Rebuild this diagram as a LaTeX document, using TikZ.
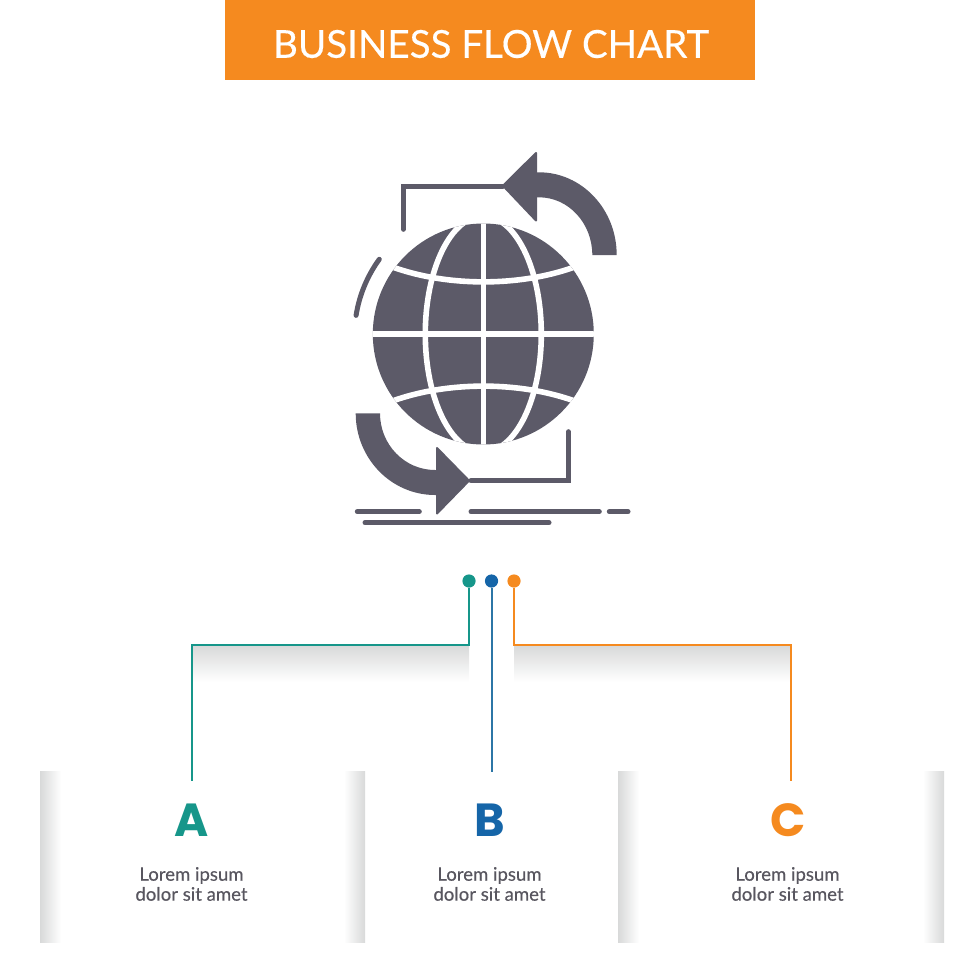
\documentclass[tikz,border=0pt]{standalone}
\usepackage{fontspec}
\setmainfont{Lato}[FakeBold=0.35]
\newfontfamily\markfont{Poppins}
\definecolor{headorange}{HTML}{F58A1F}
\definecolor{markteal}{HTML}{16968A}
\definecolor{markblue}{HTML}{1565A8}
\definecolor{wireblue}{HTML}{2C76A6}
\definecolor{glyphgray}{HTML}{5C5A68}
\definecolor{textgray}{HTML}{58565F}
\definecolor{shadegray}{HTML}{D8D9D9}
\tikzset{
  glyph/.style = {fill = glyphgray, draw = glyphgray, line width = 0.05cm, line join = round},
  stroke/.style = {draw = glyphgray, line width = 0.125cm, line cap = round, line join = miter},
  gridline/.style = {draw = white, line width = 0.14cm},
  wire/.style = {line width = 0.05cm},
  dot/.style = {circle, inner sep = 0pt, minimum size = 0.33cm},
  letter/.style = {font = \markfont\bfseries\fontsize{33}{33}\selectfont},
  caption/.style = {text = textgray, align = center, font = \fontsize{13.2}{14.2}\selectfont}
}
\begin{document}
\begin{tikzpicture}[x = 0.025cm, y = -0.025cm]
\useasboundingbox (0,0) rectangle (980,980);
\fill [headorange] (225,0) rectangle (755,80);
\node (title) [text = white, font = \fontsize{27.4}{30}\selectfont] at (491,44) {BUSINESS FLOW CHART};
% globe
\fill [glyphgray] (483.3,334) circle [radius = 110.5];
\begin{scope}
\clip (483.3,334) circle [radius = 110.5];
\draw [gridline] (483.3,334) ellipse [x radius = 58, y radius = 118];
\draw [gridline] (483.3,220) -- (483.3,448);
\draw [gridline] (370,334) -- (597,334);
\draw [gridline] (380,262) .. controls (440,288.5) and (527,288.5) .. (587,262);
\draw [gridline] (380,406) .. controls (440,379.5) and (527,379.5) .. (587,406);
\end{scope}
% arrows
\fill [glyphgray] (528,172.3) -- (539,172.3) arc [start angle = -90, end angle = 0, x radius = 77.7, y radius = 82.7] -- (592.3,255) arc [start angle = 0, end angle = -90, x radius = 53.3, y radius = 57.7] -- (528,197.3) -- cycle;
\draw [glyph] (503,185.7) -- (536,153) -- (536,220.5) -- cycle;
\draw [stroke] (403.3,229.3) -- (403.3,186) -- (503,186);
\fill [glyphgray] (355.7,413.3) arc [start angle = 180, end angle = 90, x radius = 79.3, y radius = 81.7] -- (446,495) -- (446,470) -- (435,470) arc [start angle = 90, end angle = 180, x radius = 55, y radius = 56.7] -- cycle;
\draw [glyph] (469,480.7) -- (437,448) -- (437,513.5) -- cycle;
\draw [stroke] (568.3,431.7) -- (568.3,480.7) -- (471,480.7);
\draw [stroke] (379.3,259.3) arc [start angle = -144, end angle = -171, radius = 130];
\draw [stroke] (357.3,511.7) -- (419.3,511.7);
\draw [stroke] (471,511.7) -- (599.3,511.7);
\draw [stroke] (609.3,511.7) -- (628,511.7);
\draw [stroke] (365,522.7) -- (549,522.7);
% shades
\shade [top color = shadegray, bottom color = white] (192,645) rectangle (469,682);
\shade [top color = shadegray, bottom color = white] (514,645) rectangle (791,682);
\foreach \x in {40,618} \shade [left color = shadegray, right color = white] (\x,771.5) rectangle (\x+21,942);
\foreach \x in {344,923} \shade [left color = white, right color = shadegray] (\x,771.5) rectangle (\x+21,942);
% connectors
\node (dotA) [dot, fill = markteal] at (469,581) {};
\node (dotB) [dot, fill = markblue] at (491.5,581) {};
\node (dotC) [dot, fill = headorange] at (514,581) {};
\coordinate (elbowA) at (192,645);
\coordinate (elbowC) at (791,645);
\coordinate (endA) at (192,781);
\coordinate (endB) at (491.5,772);
\coordinate (endC) at (791,781);
\draw [wire, draw = markteal] (dotA) |- (elbowA) -- (endA);
\draw [wire, draw = wireblue] (dotB) -- (endB);
\draw [wire, draw = headorange] (dotC) |- (elbowC) -- (endC);
% labels
\foreach \x/\l/\c in {192/A/markteal, 490/B/markblue, 788/C/headorange} {
  \node (letter\l) [letter, text = \c] at (\x,820) {\l};
  \node (text\l) [caption] at (\x-0.5,884) {Lorem ipsum\\dolor sit amet};
}
\end{tikzpicture}
\end{document}
